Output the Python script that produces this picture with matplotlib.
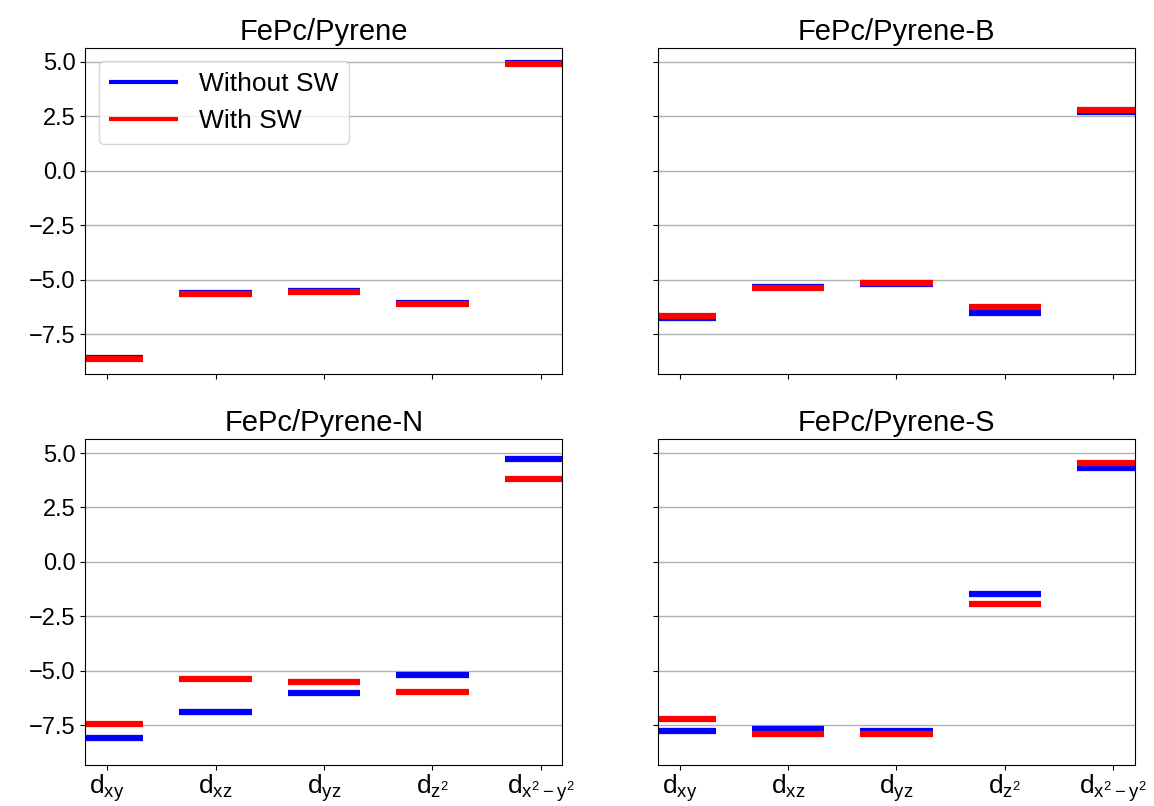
import matplotlib
matplotlib.use('Agg')
import matplotlib.pyplot as plt

plt.rcParams['font.family'] = ['Liberation Sans', 'DejaVu Sans']
plt.rcParams['mathtext.default'] = 'regular'

# orbital labels
orbitals = [r'd$_{xy}$', r'd$_{xz}$', r'd$_{yz}$', r'd$_{z^2}$', r'd$_{x^2-y^2}$']

# systems
titles = ['FePc/Pyrene', 'FePc/Pyrene-B', 'FePc/Pyrene-N', 'FePc/Pyrene-S']

# energies (without / with SW)
pyr_without = [-8.60, -5.63, -5.50, -6.09, 4.96]
pyr_with = [-8.65, -5.66, -5.55, -6.12, 4.91]

pyrB_without = [-6.77, -5.35, -5.20, -6.55, 2.71]
pyrB_with = [-6.69, -5.37, -5.15, -6.27, 2.78]

pyrN_without = [-8.07, -6.88, -6.01, -5.18, 4.74]
pyrN_with = [-7.45, -5.40, -5.50, -5.99, 3.79]

pyrS_without = [-7.77, -7.69, -7.78, -1.47, 4.31]
pyrS_with = [-7.20, -7.90, -7.92, -1.95, 4.54]

without_sw = [pyr_without, pyrB_without, pyrN_without, pyrS_without]
with_sw = [pyr_with, pyrB_with, pyrN_with, pyrS_with]

half = 1/3  # half width of level

fig, axs = plt.subplots(2, 2, sharex=True, sharey=True, figsize=(11.54, 8.06), dpi=100)
axs = axs.flatten()

for k in range(4):
    ax = axs[k]
    for i in range(len(orbitals)):
        lab1 = 'Without SW' if i == 0 else None
        lab2 = 'With SW' if i == 0 else None
        ax.plot([i - half, i + half], [without_sw[k][i], without_sw[k][i]],
                color='blue', lw=4.5, solid_capstyle='butt', label=lab1)
        ax.plot([i - half, i + half], [with_sw[k][i], with_sw[k][i]],
                color='red', lw=4.5, solid_capstyle='butt', label=lab2)
    ax.grid(axis='y', color='#b0b0b0', lw=1)
    ax.set_axisbelow(True)
    ax.set_title(titles[k], fontsize=21)
    ax.tick_params(axis='y', labelsize=17)
    ax.tick_params(axis='x', labelsize=19, pad=2)
    ax.set_xticks(range(len(orbitals)))
    ax.set_xticklabels(orbitals)

axs[0].set_xlim(-0.2, 4.2)
axs[0].set_yticks([-7.5, -5.0, -2.5, 0.0, 2.5, 5.0])

leg = axs[0].legend(loc='upper left', fontsize=19, handlelength=2.6)
for line in leg.get_lines():
    line.set_linewidth(3)

plt.subplots_adjust(left=0.074, right=0.9835, top=0.9404, bottom=0.0509,
                    wspace=0.2, hspace=0.2)
plt.savefig('out.png', dpi=100)
